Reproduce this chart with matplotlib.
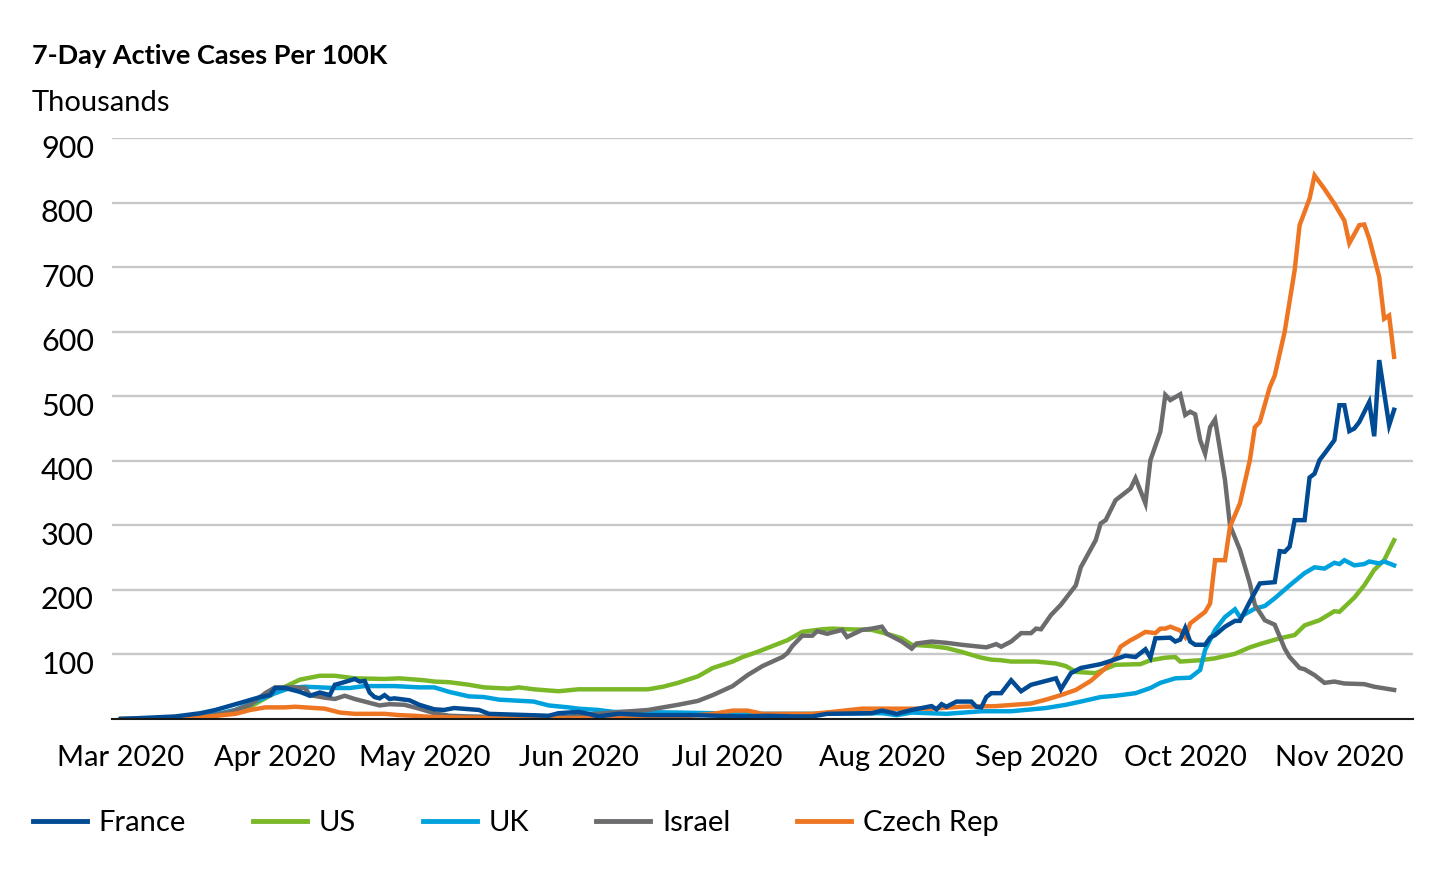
import pandas as pd
import numpy as np
import matplotlib
matplotlib.use("Agg")
import matplotlib.pyplot as plt
import matplotlib.dates as mdates
import matplotlib.transforms as mtransforms

plt.rcParams['font.family'] = ['Lato', 'DejaVu Sans']

# days are counted from 1 Mar 2020
france_days = [0, 11, 16, 19, 24, 28, 30, 31, 33, 36, 38, 40, 42, 43, 44, 47, 48, 49, 50, 51,
               52, 53, 54, 55, 58, 60, 63, 65, 67, 72, 74, 86, 88, 92, 94, 96, 100, 106, 110,
               115, 125, 130, 135, 139, 142, 151, 153, 156, 159, 163, 164, 165, 166, 168, 171,
               172, 173, 174, 175, 177, 179, 181, 183, 188, 189, 191, 193, 197, 199, 202, 204,
               206, 207, 208, 211, 212, 213, 214, 215, 216, 218, 219, 220, 222, 224, 225, 227,
               229, 232, 233, 234, 235, 236, 238, 239, 240, 241, 242, 244, 245, 246, 247, 248,
               249, 251, 252, 253, 255, 256]
france_vals = [0, 4, 9, 14, 25, 34, 37, 48, 48, 42, 36, 41, 37, 53, 55, 62, 58, 59, 41, 34,
               32, 37, 31, 32, 29, 22, 15, 14, 17, 14, 8, 5, 9, 11, 8, 4, 8, 6, 6,
               6, 4, 5, 4, 4, 8, 9, 13, 8, 14, 20, 15, 23, 19, 27, 27,
               19, 18, 34, 40, 40, 60, 43, 53, 63, 46, 71, 79, 85, 90, 98, 96,
               108, 95, 125, 126, 120, 123, 141, 120, 115, 115, 126, 130, 143, 152, 152, 182,
               210, 212, 260, 259, 267, 308, 308, 374, 380, 401, 411, 432, 486, 486, 446, 450,
               460, 491, 438, 556, 455, 479]

us_days = [0, 10, 15, 18, 23, 26, 29, 33, 36, 40, 43, 47, 53, 56, 61, 63, 66, 70, 73, 78,
           80, 83, 88, 92, 99, 106, 109, 112, 116, 119, 123, 125, 128, 131, 134, 137, 141,
           143, 146, 151, 154, 157, 159, 163, 166, 169, 173, 175, 177, 179, 184, 188, 190,
           192, 196, 198, 200, 205, 207, 210, 212, 213, 217, 220, 224, 227, 229, 233, 236,
           238, 241, 244, 245, 248, 250, 252, 254, 256]
us_vals = [0, 0.5, 1, 4, 11, 19, 32, 50, 61, 67, 67, 63, 62, 63, 60, 58, 57, 53, 49, 47,
           49, 46, 43, 46, 46, 46, 50, 56, 66, 79, 89, 96, 104, 113, 122, 135, 139,
           140, 139, 138, 132, 125, 115, 113, 110, 104, 95, 92, 91, 89, 89, 86, 82,
           73, 71, 78, 84, 85, 91, 95, 96, 89, 91, 94, 101, 111, 116, 125, 130,
           145, 153, 167, 166, 188, 207, 231, 246, 277]

uk_days = [0, 10, 16, 20, 23, 27, 31, 34, 37, 43, 46, 49, 53, 55, 60, 63, 66, 70, 73, 76,
           83, 86, 90, 92, 96, 99, 112, 126, 139, 153, 156, 159, 166, 173, 179, 186, 190,
           193, 197, 200, 204, 207, 209, 212, 215, 217, 218, 220, 222, 224, 225, 228, 230,
           232, 235, 238, 240, 242, 244, 245, 246, 248, 250, 251, 253, 254, 256]
uk_vals = [0, 1, 4, 9, 14, 27, 40, 48, 50, 48, 48, 51, 51, 51, 49, 49, 42, 35, 34, 30,
           27, 21, 18, 16, 14, 11, 10, 8, 8, 9, 6, 10, 8, 12, 12, 17, 22,
           27, 34, 36, 40, 48, 56, 63, 64, 76, 107, 138, 158, 170, 158, 171, 175,
           187, 207, 226, 235, 233, 242, 240, 246, 238, 240, 244, 241, 244, 238]

israel_days = [0, 10, 18, 22, 26, 29, 31, 35, 37, 38, 41, 43, 45, 47, 52, 54, 57, 60, 63, 66,
               70, 83, 90, 92, 99, 106, 109, 112, 116, 119, 123, 126, 129, 133, 134, 135, 137,
               139, 140, 142, 145, 146, 149, 151, 153, 154, 157, 159, 160, 163, 166, 169, 174,
               176, 177, 179, 181, 183, 184, 185, 187, 189, 192, 193, 196, 197, 198, 200, 201,
               202, 203, 204, 206, 207, 209, 210, 211, 213, 214, 215, 216, 217, 218, 219, 220,
               222, 223, 225, 227, 228, 230, 232, 234, 235, 237, 238, 240, 242, 244, 246, 250,
               252, 256]
israel_vals = [0, 1, 5, 11, 22, 40, 49, 49, 48, 37, 33, 31, 36, 31, 21, 23, 22, 16, 9, 5,
               4, 2, 3, 6, 10, 14, 18, 22, 28, 37, 51, 68, 82, 96, 102, 113, 129,
               129, 136, 132, 138, 127, 138, 140, 143, 132, 120, 109, 117, 120, 118, 115, 111,
               116, 112, 120, 133, 133, 140, 139, 161, 177, 207, 235, 277, 303, 308, 339, 345,
               351, 357, 373, 334, 401, 445, 502, 494, 503, 471, 476, 472, 432, 411, 452, 464,
               370, 300, 262, 210, 177, 153, 146, 109, 96, 79, 77, 68, 56, 58, 55, 54,
               50, 45]

czech_days = [0, 15, 18, 23, 26, 29, 33, 35, 39, 41, 44, 47, 53, 56, 59, 63, 70, 90, 110, 119,
              123, 126, 129, 139, 143, 149, 156, 163, 169, 176, 183, 186, 189, 192, 195, 198,
              200, 201, 203, 204, 206, 208, 209, 210, 211, 213, 214, 215, 218, 219, 220, 222,
              223, 224, 225, 227, 228, 229, 231, 232, 234, 236, 237, 239, 240, 242, 244, 246,
              247, 249, 250, 251, 253, 254, 255, 256]
czech_vals = [0, 1, 4, 8, 14, 18, 18, 19, 17, 16, 10, 8, 8, 6, 5, 3, 2, 1, 2, 8,
              13, 13, 8, 8, 11, 16, 16, 16, 19, 20, 24, 30, 37, 45, 59, 79,
              96, 112, 122, 126, 135, 133, 140, 140, 143, 137, 127, 148, 166, 179, 246, 246,
              298, 316, 334, 401, 452, 460, 514, 532, 600, 695, 765, 806, 842, 821, 798, 772,
              737, 765, 766, 744, 685, 620, 625, 561]

series = [
    ("US", us_days, us_vals, "#7AB828"),
    ("UK", uk_days, uk_vals, "#00A2DE"),
    ("Israel", israel_days, israel_vals, "#6C6C6E"),
    ("Czech Rep", czech_days, czech_vals, "#EE7623"),
    ("France", france_days, france_vals, "#004B93"),
]
legend_order = ["France", "US", "UK", "Israel", "Czech Rep"]
start = pd.Timestamp("2020-03-01")

fig = plt.figure(figsize=(14.48, 8.76), dpi=100)
ax = fig.add_axes([112 / 1448, 1 - 719 / 876, 1301 / 1448, 581 / 876])

lines = {}
for name, days, vals, color in series:
    x = start + pd.to_timedelta(days, unit="D")
    ln, = ax.plot(x, vals, color=color, lw=3.2, solid_joinstyle="miter", label=name)
    lines[name] = ln

ax.set_ylim(0, 900)
ax.set_yticks(range(100, 1000, 100))
ax.set_xlim(start - pd.Timedelta(days=1.8), start + pd.Timedelta(days=259.8))
ax.xaxis.set_major_locator(mdates.MonthLocator())
ax.xaxis.set_major_formatter(mdates.DateFormatter("%b %Y"))

ax.grid(axis="y", color="#C8C8C8", lw=1.7)
ax.set_axisbelow(True)
for s in ["top", "right", "left"]:
    ax.spines[s].set_visible(False)
ax.spines["bottom"].set_color("#1a1a1a")
ax.spines["bottom"].set_linewidth(1.5)
ax.spines["bottom"].set_zorder(5)

ax.tick_params(axis="both", length=0)
ax.tick_params(axis="y", labelsize=22, pad=13)
ax.tick_params(axis="x", labelsize=21, pad=19)

# y labels sit a little under their gridline
offset = mtransforms.ScaledTranslation(0, -8 / 100, fig.dpi_scale_trans)
for lbl in ax.get_yticklabels():
    lbl.set_transform(lbl.get_transform() + offset)

fig.text(32 / 1448, 1 - 64 / 876, "7-Day Active Cases Per 100K", fontsize=19.5,
         fontweight="bold", va="baseline", ha="left")
fig.text(32 / 1448, 1 - 111 / 876, "Thousands", fontsize=21, va="baseline", ha="left")

leg = fig.legend([lines[n] for n in legend_order], legend_order, loc="center left",
                 bbox_to_anchor=(33 / 1448, 1 - 823 / 876), ncol=5, frameon=False,
                 fontsize=21, handlelength=1.85, handletextpad=0.4, columnspacing=2.3,
                 borderpad=0, borderaxespad=0)
for h in leg.legend_handles:
    h.set_linewidth(3.5)

fig.savefig("out.png", dpi=100)
